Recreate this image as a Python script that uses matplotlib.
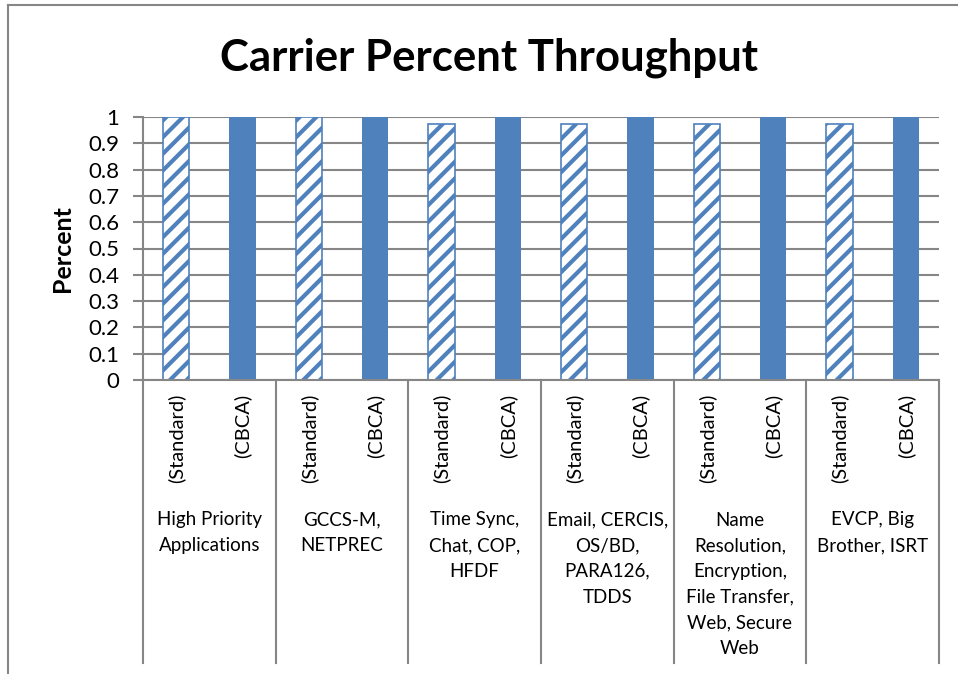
import matplotlib
matplotlib.use('Agg')
import matplotlib.pyplot as plt
import matplotlib.transforms as mtransforms
from matplotlib.lines import Line2D
import numpy as np

plt.rcParams['font.family'] = ['Lato', 'DejaVu Sans']
plt.rcParams['hatch.linewidth'] = 3.0

# data
groups = ["High Priority\nApplications",
          "GCCS-M,\nNETPREC",
          "Time Sync,\nChat, COP,\nHFDF",
          "Email, CERCIS,\nOS/BD,\nPARA126,\nTDDS",
          "Name\nResolution,\nEncryption,\nFile Transfer,\nWeb, Secure\nWeb",
          "EVCP, Big\nBrother, ISRT"]
series = ["(Standard)", "(CBCA)"]
standard = [1.0, 1.0, 0.975, 0.975, 0.975, 0.975]
cbca = [1.0, 1.0, 1.0, 1.0, 1.0, 1.0]
yticks = [0, 0.1, 0.2, 0.3, 0.4, 0.5, 0.6, 0.7, 0.8, 0.9, 1]

blue = '#4F81BD'
grid = '#868686'

fig = plt.figure(figsize=(9.58, 6.74), dpi=100)
W, H = 958, 674
ax = fig.add_axes([143 / W, 1 - 380 / H, (939 - 143) / W, (380 - 117) / H])

n = len(groups)
x_std = np.arange(n) * 2
x_cb = x_std + 1
ax.bar(x_std, standard, width=0.4, color='white', edgecolor=blue,
       hatch='//', linewidth=1.2, zorder=3)
ax.bar(x_cb, cbca, width=0.4, color=blue, edgecolor=blue, linewidth=0, zorder=3)

ax.set_xlim(-0.5, 2 * n - 0.5)
ax.set_ylim(0, 1)
ax.set_yticks(yticks)
ax.set_yticklabels([f'{t:g}' for t in yticks], fontsize=16)
ax.yaxis.grid(True, color=grid, linewidth=1.5, zorder=0)
ax.tick_params(axis='y', length=7, width=1.5, color=grid, pad=10)
ax.set_xticks([])
for s in ['top', 'right']:
    ax.spines[s].set_visible(False)
for s in ['left', 'bottom']:
    ax.spines[s].set_color(grid)
    ax.spines[s].set_linewidth(1.5)
ax.spines['bottom'].set_zorder(4)

ax.set_ylabel('Percent', fontsize=18, fontweight='bold', labelpad=10)

# multi-level category axis
trans = mtransforms.blended_transform_factory(ax.transData, ax.transAxes)
sep_bottom = (380 - 663) / (380 - 117)
for k in range(n + 1):
    xs = 2 * k - 0.5
    ax.add_line(Line2D([xs, xs], [0, sep_bottom], transform=trans,
                       color=grid, linewidth=1.5, clip_on=False))
for i in range(n):
    for j, lab in enumerate(series):
        ax.text(2 * i + j, -0.052, lab, transform=trans, rotation=90,
                ha='center', va='top', fontsize=14.5)
    ax.text(2 * i + 0.5, -0.5, groups[i], transform=trans, ha='center',
            va='top', fontsize=13.5, linespacing=1.62)

fig.text(489 / W, 1 - 58 / H, 'Carrier Percent Throughput', fontsize=31.5,
         fontweight='bold', ha='center', va='center')

# outer chart border
fig.add_artist(Line2D([8 / W, 8 / W], [0, 1 - 5 / H], color=grid, linewidth=1.5))
fig.add_artist(Line2D([8 / W, 1], [1 - 5 / H, 1 - 5 / H], color=grid, linewidth=1.5))

fig.savefig('out.png', dpi=100)
